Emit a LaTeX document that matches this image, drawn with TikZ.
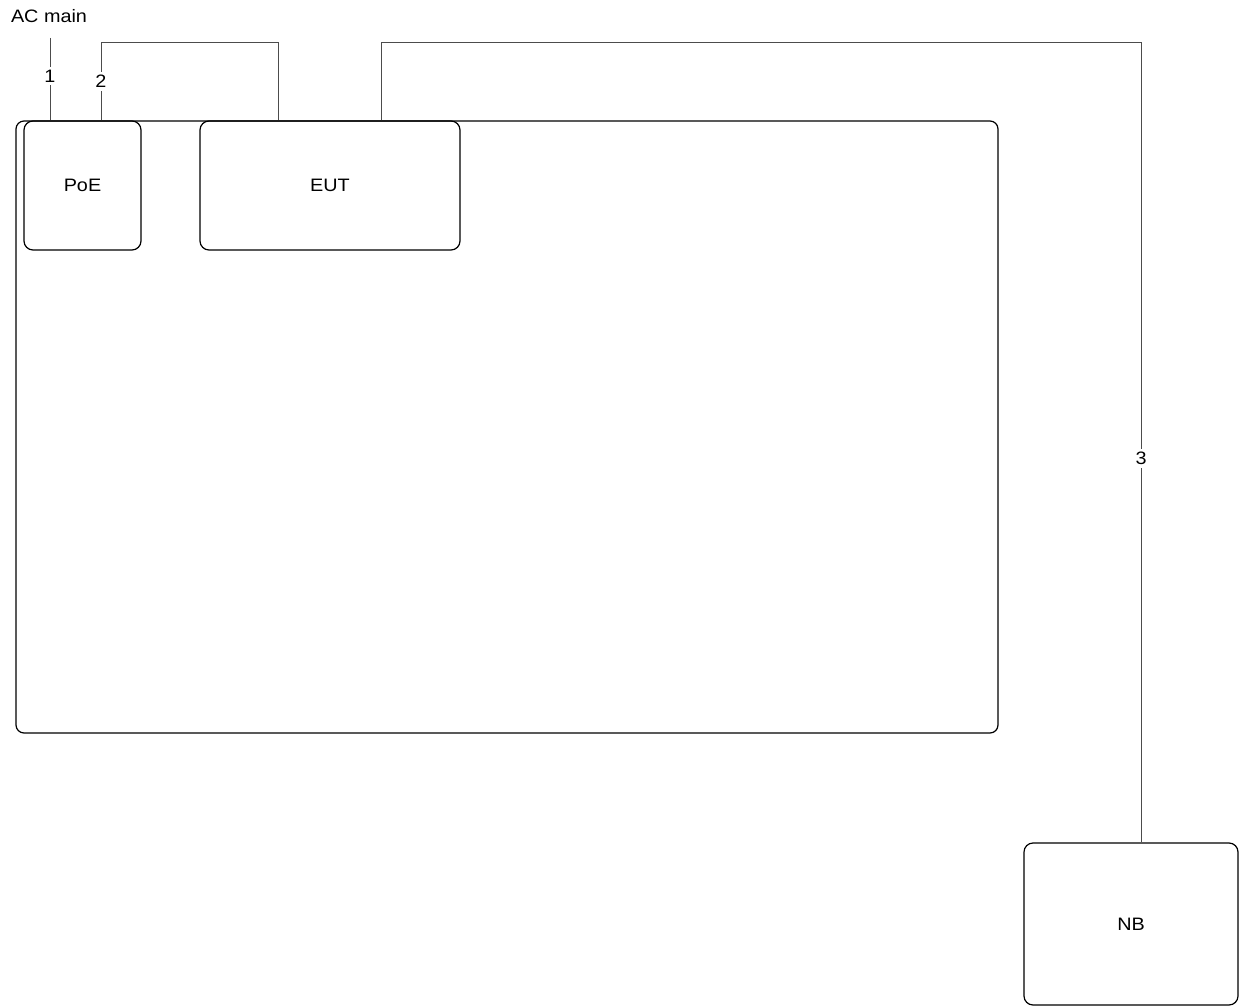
\documentclass[tikz,border=0pt]{standalone}
\usepackage{fontspec}
\setmainfont{Liberation Sans}[FakeStretch=1.1]
\begin{document}
\begin{tikzpicture}[x=1pt,y=-1pt,
  box/.style={draw=black,line width=1.2pt,rounded corners=9pt,inner sep=0pt,font=\fontsize{18}{20}\selectfont},
  wire/.style={draw=black!70,line width=1pt},
  lbl/.style={fill=white,inner sep=3pt,font=\fontsize{18}{20}\selectfont}]
\useasboundingbox (0,0) rectangle (1240,1006);
\node[box,minimum width=982pt,minimum height=612pt,rounded corners=8pt] (room) at (507,427) {};
\node[box,minimum width=117pt,minimum height=129pt] (poe) at (82.5,185.5) {PoE};
\node[box,minimum width=260pt,minimum height=129pt] (eut) at (330,185.5) {EUT};
\node[box,minimum width=214pt,minimum height=162pt] (nb) at (1131,924) {NB};
\node[inner sep=0pt,font=\fontsize{18}{20}\selectfont] (ac) at (49,16) {AC main};
\coordinate (acend) at (50,38);
\draw[wire] (acend) -- node[lbl,pos=0.46]{1} (poe.north -| acend);
\draw[wire] (poe.north -| 101,0) -- node[lbl,pos=0.5]{2} (101,43) -- (278,43) -- (eut.north -| 278,0);
\draw[wire] (eut.north -| 381,0) -- (381,43) -- (1141,43) -- node[lbl,pos=0.52]{3} (nb.north -| 1141,0);
\end{tikzpicture}
\end{document}
